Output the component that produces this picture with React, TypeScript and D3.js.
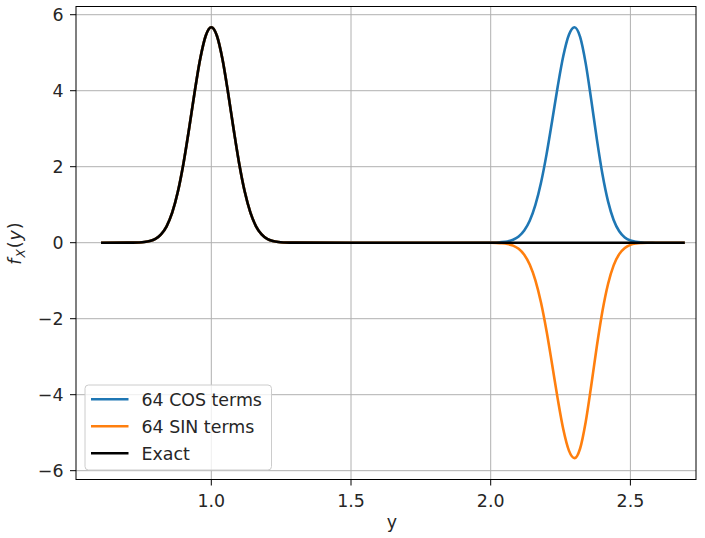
import React from 'react'
import * as d3 from 'd3'

// sample points along y (dense around the two peaks)
const yGrid = [
  0.61,
  0.70, 0.72, 0.74, 0.76, 0.78, 0.80, 0.82, 0.84, 0.86, 0.88, 0.90, 0.92, 0.94, 0.96, 0.98,
  1.00, 1.02, 1.04, 1.06, 1.08, 1.10, 1.12, 1.14, 1.16, 1.18, 1.20, 1.22, 1.24, 1.26, 1.28, 1.30,
  1.50, 1.80,
  2.00, 2.02, 2.04, 2.06, 2.08, 2.10, 2.12, 2.14, 2.16, 2.18, 2.20, 2.22, 2.24, 2.26, 2.28,
  2.30, 2.32, 2.34, 2.36, 2.38, 2.40, 2.42, 2.44, 2.46, 2.48, 2.50, 2.52, 2.54, 2.56, 2.58, 2.60,
  2.69,
]

const cosTerms = [
  0,
  0.001, 0.002, 0.006, 0.017, 0.044, 0.101, 0.218, 0.432, 0.789, 1.332, 2.073, 2.978, 3.947, 4.827, 5.447,
  5.67, 5.447, 4.827, 3.947, 2.978, 2.073, 1.332, 0.789, 0.432, 0.218, 0.101, 0.044, 0.017, 0.006, 0.002, 0.001,
  0, 0,
  0.002, 0.005, 0.014, 0.034, 0.077, 0.162, 0.318, 0.582, 0.993, 1.576, 2.331, 3.210, 4.117, 4.918, 5.472,
  5.67, 5.416, 4.719, 3.751, 2.720, 1.799, 1.086, 0.598, 0.300, 0.138, 0.057, 0.022, 0.008, 0.002, 0.001, 0,
  0,
]

const sinTerms = [
  0,
  0.001, 0.002, 0.006, 0.017, 0.044, 0.101, 0.218, 0.432, 0.789, 1.332, 2.073, 2.978, 3.947, 4.827, 5.447,
  5.67, 5.447, 4.827, 3.947, 2.978, 2.073, 1.332, 0.789, 0.432, 0.218, 0.101, 0.044, 0.017, 0.006, 0.002, 0.001,
  0, 0,
  -0.002, -0.005, -0.014, -0.034, -0.077, -0.162, -0.318, -0.582, -0.993, -1.576, -2.331, -3.210, -4.117, -4.918, -5.472,
  -5.67, -5.416, -4.719, -3.751, -2.720, -1.799, -1.086, -0.598, -0.300, -0.138, -0.057, -0.022, -0.008, -0.002, -0.001, 0,
  0,
]

const exact = [
  0,
  0.001, 0.002, 0.006, 0.017, 0.044, 0.101, 0.218, 0.432, 0.789, 1.332, 2.073, 2.978, 3.947, 4.827, 5.447,
  5.67, 5.447, 4.827, 3.947, 2.978, 2.073, 1.332, 0.789, 0.432, 0.218, 0.101, 0.044, 0.017, 0.006, 0.002, 0.001,
  0, 0,
  0, 0, 0, 0, 0, 0, 0, 0, 0, 0, 0, 0, 0, 0, 0,
  0, 0, 0, 0, 0, 0, 0, 0, 0, 0, 0, 0, 0, 0, 0, 0,
  0,
]

const seriesNames = ['64 COS terms', '64 SIN terms', 'Exact']
const seriesColors = ['#1f77b4', '#ff7f0e', '#000000']
const seriesValues = [cosTerms, sinTerms, exact]

const xTicks = [1.0, 1.5, 2.0, 2.5]
const yTicks = [-6, -4, -2, 0, 2, 4, 6]

const W = 705
const H = 538
const left = 76
const right = 696
const top = 6.5
const bottom = 479.5
const font = 'DejaVu Sans, sans-serif'
const fs = 17.4
const tickLen = 6

export default function App() {
  const x = d3.scaleLinear().domain([0.5157, 2.7348]).range([left, right])
  const y = d3.scaleLinear().domain([-6.232, 6.216]).range([bottom, top])
  const fmtX = d3.format('.1f')
  const fmtY = d3.format('d')

  const line = d3.line<number>()
    .x((_, i) => x(yGrid[i]))
    .y(d => y(d))
    .curve(d3.curveMonotoneX)

  return (
    <svg width={W} height={H} style={{ position: 'absolute', left: 0, top: 0 }} fontFamily={font}>
      <rect width={W} height={H} fill="#fff" />
      {/* grid */}
      <g stroke="#b0b0b0" strokeWidth={1}>
        {xTicks.map(t => <line key={'gx' + t} x1={x(t)} x2={x(t)} y1={top} y2={bottom} />)}
        {yTicks.map(t => <line key={'gy' + t} x1={left} x2={right} y1={y(t)} y2={y(t)} />)}
      </g>
      {/* series */}
      {seriesValues.map((vals, i) => (
        <path key={seriesNames[i]} d={line(vals) || ''} fill="none" stroke={seriesColors[i]}
          strokeWidth={2.6} strokeLinejoin="round" strokeLinecap="square" />
      ))}
      {/* spines */}
      <rect x={left} y={top} width={right - left} height={bottom - top} fill="none" stroke="#000" strokeWidth={1} />
      {/* x ticks */}
      {xTicks.map(t => (
        <g key={'tx' + t}>
          <line x1={x(t)} x2={x(t)} y1={bottom} y2={bottom + tickLen} stroke="#000" strokeWidth={1} />
          <text x={x(t)} y={506.5} fontSize={fs} textAnchor="middle" fill="#262626">{fmtX(t)}</text>
        </g>
      ))}
      {/* y ticks */}
      {yTicks.map(t => (
        <g key={'ty' + t}>
          <line x1={left - tickLen} x2={left} y1={y(t)} y2={y(t)} stroke="#000" strokeWidth={1} />
          <text x={63.5} y={y(t)} dy="0.36em" fontSize={fs} textAnchor="end" fill="#262626">{fmtY(t)}</text>
        </g>
      ))}
      {/* axis labels */}
      <text x={392} y={528} fontSize={fs} textAnchor="middle" fill="#262626">y</text>
      <text transform={`translate(21,${(top + bottom) / 2}) rotate(-90)`} fontSize={fs} textAnchor="middle"
        fill="#262626" letterSpacing={1}>
        <tspan fontStyle="italic">f</tspan>
        <tspan fontStyle="italic" fontSize={fs * 0.7} dy={3.5}>X</tspan>
        <tspan dy={-3.5}>(</tspan>
        <tspan fontStyle="italic">y</tspan>
        <tspan>)</tspan>
      </text>
      {/* legend */}
      <g>
        <rect x={85} y={385} width={186.5} height={85} rx={3.5} fill="#fff" fillOpacity={0.8} stroke="#cccccc" strokeWidth={1} />
        {seriesNames.map((name, i) => (
          <g key={'lg' + name} transform={`translate(0,${399.3 + i * 27})`}>
            <line x1={91} x2={128.5} y1={0} y2={0} stroke={seriesColors[i]} strokeWidth={2.6} />
            <text x={141.5} y={0} dy="0.36em" fontSize={fs} fill="#262626">{name}</text>
          </g>
        ))}
      </g>
    </svg>
  )
}
